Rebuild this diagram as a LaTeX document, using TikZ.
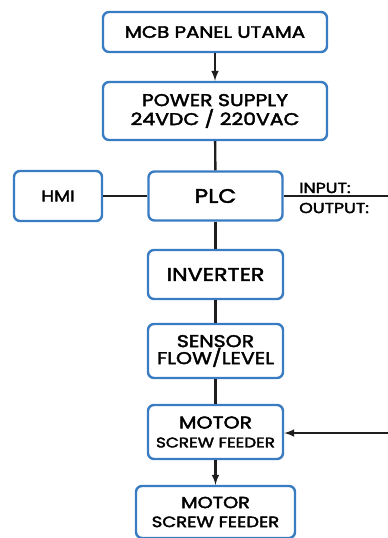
\documentclass[tikz,border=0pt]{standalone}
\usepackage{fontspec}
\setmainfont{Poppins}
\newfontfamily\boxfont{Poppins}[FakeStretch=1.2,FakeBold=2.5]
\usepackage{tikz}
\usetikzlibrary{positioning}
\definecolor{boxblue}{RGB}{58,124,194}
\definecolor{linegray}{RGB}{30,30,30}
\newcommand{\fsz}[2]{\fontsize{#1}{#2}\selectfont}

\begin{document}
\begin{tikzpicture}[x=1pt,y=-1pt]
\tikzstyle{every node}+=[inner sep=0pt]
\tikzstyle{blk}=[draw=boxblue,line width=2.4pt,rounded corners=6pt,fill=white,align=center,font=\boxfont\fsz{16}{19}]
\tikzstyle{wire}=[draw=linegray,line width=2.4pt]
\tikzstyle{iolabel}=[anchor=west,font=\boxfont\fsz{14.5}{16}]
\useasboundingbox (0,0) rectangle (388,538);
\node [blk,minimum width=224pt,minimum height=40pt,font=\boxfont\fsz{16.5}{19}] (mcb) at (215,32) {MCB PANEL UTAMA};
\node [blk,minimum width=224pt,minimum height=58pt,font=\boxfont\fsz{17}{19}] (psu) at (215,111) {POWER SUPPLY\\24VDC / 220VAC};
\node [blk,minimum width=134pt,minimum height=49pt,font=\boxfont\fsz{19.5}{22}] (plc) at (215.5,196) {PLC};
\node [blk,minimum width=88pt,minimum height=50pt,font=\boxfont\fsz{15.5}{18}] (hmi) at (58,196) {HMI};
\node [blk,minimum width=135pt,minimum height=49pt,font=\boxfont\fsz{18.5}{21}] (inv) at (215.5,274.5) {INVERTER};
\node [blk,minimum width=135pt,minimum height=54pt,font=\boxfont\fsz{17}{17}] (sensor) at (215.5,351) {SENSOR\\FLOW/LEVEL};
\node [blk,minimum width=135pt,minimum height=54pt] (motora) at (215.5,432) {{\fsz{17}{18}MOTOR}\\{\fsz{14}{18}SCREW FEEDER}};
\node [blk,minimum width=159pt,minimum height=52pt] (motorb) at (215.5,512) {{\fsz{16}{17}MOTOR}\\{\fsz{15}{17}SCREW FEEDER}};
\coordinate (io) at (388,196);
\coordinate (feed) at (388,433);
\draw [wire,-latex] (mcb) -- (psu);
\draw [wire] (psu) -- (plc);
\draw [wire] (hmi) -- (plc);
\draw [wire] (plc) -- (io);
\draw (299,188) node [iolabel] {INPUT:};
\draw (299,208) node [iolabel] {OUTPUT:};
\draw [wire] (plc) -- (inv);
\draw [wire] (inv) -- (sensor);
\draw [wire] (sensor) -- (motora);
\draw [wire,-latex] (feed) -- (motora.east |- feed);
\draw [wire,-latex] (motora) -- (motorb);
\end{tikzpicture}
\end{document}
